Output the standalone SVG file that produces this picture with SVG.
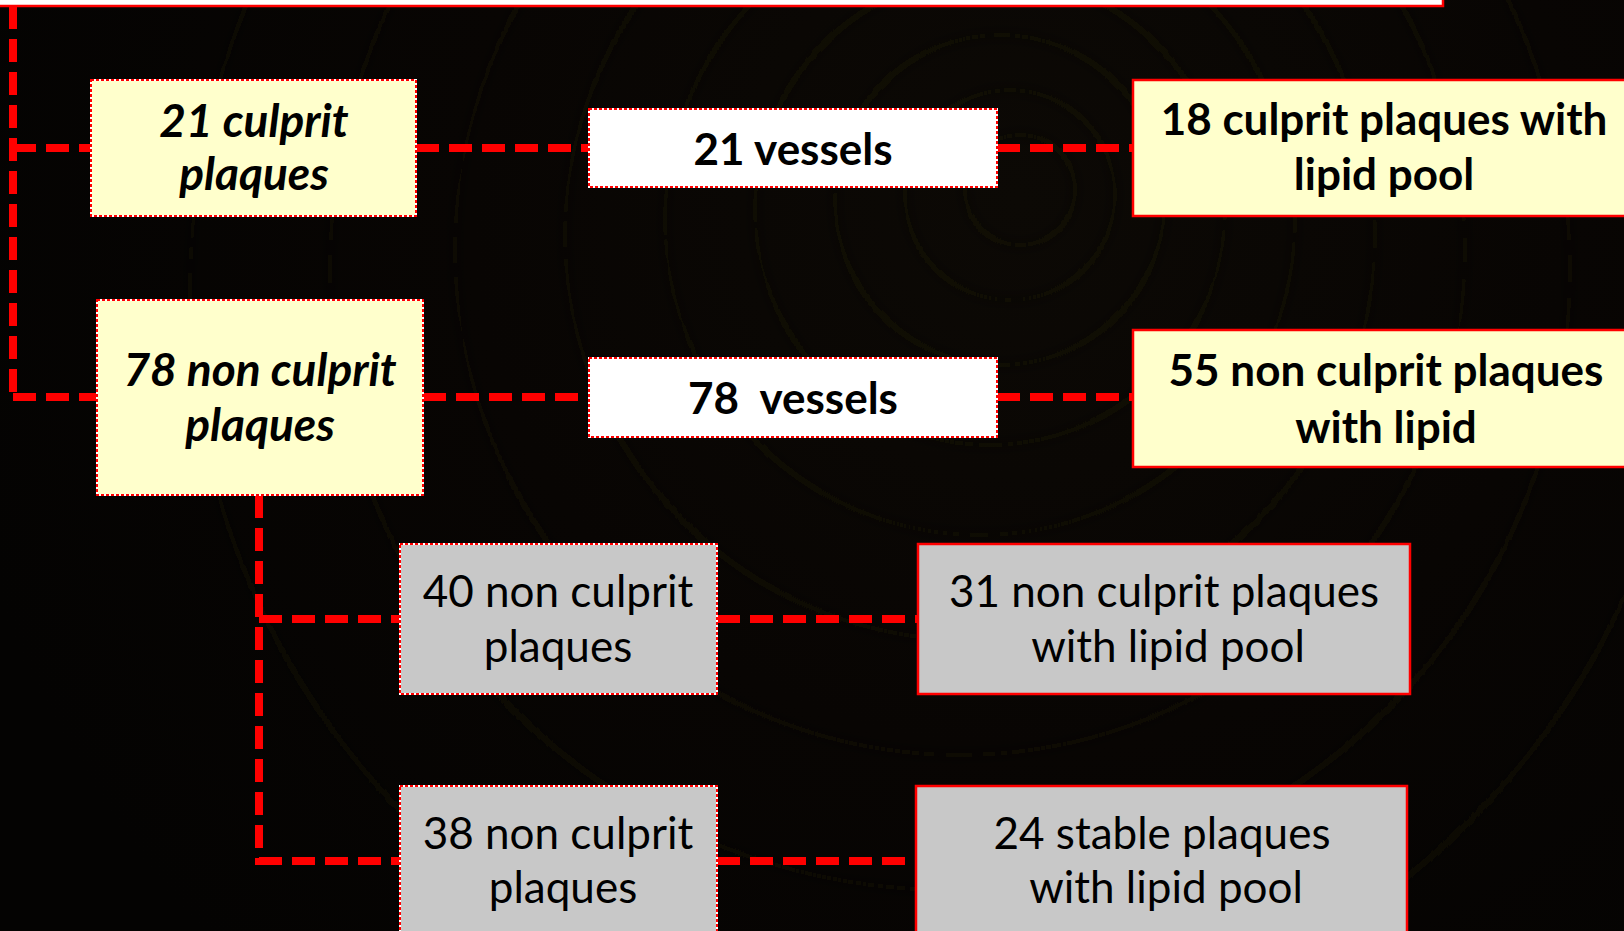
<svg xmlns="http://www.w3.org/2000/svg" width="1624" height="931" viewBox="0 0 1624 931">
  <defs>
    <radialGradient id="bgGlow" cx="1020" cy="200" r="1100" gradientUnits="userSpaceOnUse">
      <stop offset="0" stop-color="#0c0905"/>
      <stop offset="0.5" stop-color="#080503"/>
      <stop offset="1" stop-color="#040302"/>
    </radialGradient>
    <filter id="soft" x="-10%" y="-10%" width="120%" height="120%">
      <feGaussianBlur stdDeviation="6"/>
    </filter>
  </defs>
  <style>
    .conn { fill: none; stroke: #ff0000; stroke-width: 8; stroke-dasharray: 23 10; }
    .under { stroke: #ffffff; stroke-width: 2; }
    .fine { fill: none; stroke: #ff0000; stroke-width: 2; stroke-dasharray: 3 2; }
    .solid { stroke: #ff0000; stroke-width: 2.5; }
    .yellow { fill: #ffffcc; }
    .white { fill: #ffffff; }
    .gray { fill: #c8c8c8; }
    text { font-family: Lato, "Liberation Sans", sans-serif; font-size: 44px; fill: #000000; text-anchor: middle; }
    .bi { font-weight: bold; font-style: italic; font-size: 46px; }
    .b { font-weight: bold; }
    .swirl { fill: none; stroke: #1a190c; stroke-width: 8; opacity: 0.3; }
  </style>

  <!-- dark backdrop with faint concentric swirl -->
  <rect x="0" y="0" width="1624" height="931" fill="url(#bgGlow)"/>
  <g filter="url(#soft)">
    <circle class="swirl" cx="1020" cy="190" r="55"/>
    <circle class="swirl" cx="1010" cy="195" r="105"/>
    <circle class="swirl" cx="1000" cy="200" r="165"/>
    <circle class="swirl" cx="990" cy="210" r="235"/>
    <circle class="swirl" cx="980" cy="220" r="315"/>
    <circle class="swirl" cx="970" cy="235" r="405"/>
    <circle class="swirl" cx="960" cy="250" r="505"/>
    <circle class="swirl" cx="950" cy="270" r="620"/>
    <circle class="swirl" cx="940" cy="290" r="750"/>
  </g>

  <!-- header box running off the top edge -->
  <g id="header">
    <rect x="-10" y="-60" width="1453" height="66" class="white solid"/>
  </g>

  <!-- dashed connectors -->
  <g id="connectors">
    <path class="conn" d="M13,6 V401"/>
    <path class="conn" d="M13,148 H91"/>
    <path class="conn" d="M416,148 H589"/>
    <path class="conn" d="M997,148 H1133"/>
    <path class="conn" d="M13,397 H97"/>
    <path class="conn" d="M423,397 H589"/>
    <path class="conn" d="M997,397 H1133"/>
    <path class="conn" d="M259,495 V865"/>
    <path class="conn" d="M259,619 H400"/>
    <path class="conn" d="M717,619 H917"/>
    <path class="conn" d="M259,861 H400"/>
    <path class="conn" d="M717,861 H916"/>
  </g>

  <g id="culprit">
    <rect x="91" y="80" width="325" height="136" class="yellow under"/>
    <rect x="91" y="80" width="325" height="136" class="fine"/>
    <text class="bi" x="254" y="137">21 culprit</text>
    <text class="bi" x="254" y="190">plaques</text>
  </g>

  <g id="vessels21">
    <rect x="589" y="109" width="408" height="78" class="white under"/>
    <rect x="589" y="109" width="408" height="78" class="fine"/>
    <text class="b" x="793" y="165">21 vessels</text>
  </g>

  <g id="culpritLipid">
    <rect x="1133" y="80" width="505" height="136" class="yellow solid"/>
    <text class="b" x="1384" y="135">18 culprit plaques with</text>
    <text class="b" x="1384" y="190">lipid pool</text>
  </g>

  <g id="nonCulprit">
    <rect x="97" y="300" width="326" height="195" class="yellow under"/>
    <rect x="97" y="300" width="326" height="195" class="fine"/>
    <text class="bi" x="260" y="386">78 non culprit</text>
    <text class="bi" x="260" y="441">plaques</text>
  </g>

  <g id="vessels78">
    <rect x="589" y="358" width="408" height="79" class="white under"/>
    <rect x="589" y="358" width="408" height="79" class="fine"/>
    <text class="b" x="793" y="414" xml:space="preserve">78  vessels</text>
  </g>

  <g id="nonCulpritLipid">
    <rect x="1133" y="330" width="505" height="137" class="yellow solid"/>
    <text class="b" x="1386" y="386">55 non culprit plaques</text>
    <text class="b" x="1386" y="443">with lipid</text>
  </g>

  <g id="nonCulprit40">
    <rect x="400" y="544" width="317" height="150" class="gray under"/>
    <rect x="400" y="544" width="317" height="150" class="fine"/>
    <text x="558" y="607">40 non culprit</text>
    <text x="558" y="662">plaques</text>
  </g>

  <g id="lipidPool31">
    <rect x="918" y="544" width="492" height="150" class="gray solid"/>
    <text x="1164" y="607">31 non culprit plaques</text>
    <text x="1168" y="662">with lipid pool</text>
  </g>

  <g id="nonCulprit38">
    <rect x="400" y="786" width="317" height="170" class="gray under"/>
    <rect x="400" y="786" width="317" height="170" class="fine"/>
    <text x="558" y="849">38 non culprit</text>
    <text x="563" y="903">plaques</text>
  </g>

  <g id="stable24">
    <rect x="916" y="786" width="491" height="170" class="gray solid"/>
    <text x="1162" y="849">24 stable plaques</text>
    <text x="1166" y="903">with lipid pool</text>
  </g>
</svg>
